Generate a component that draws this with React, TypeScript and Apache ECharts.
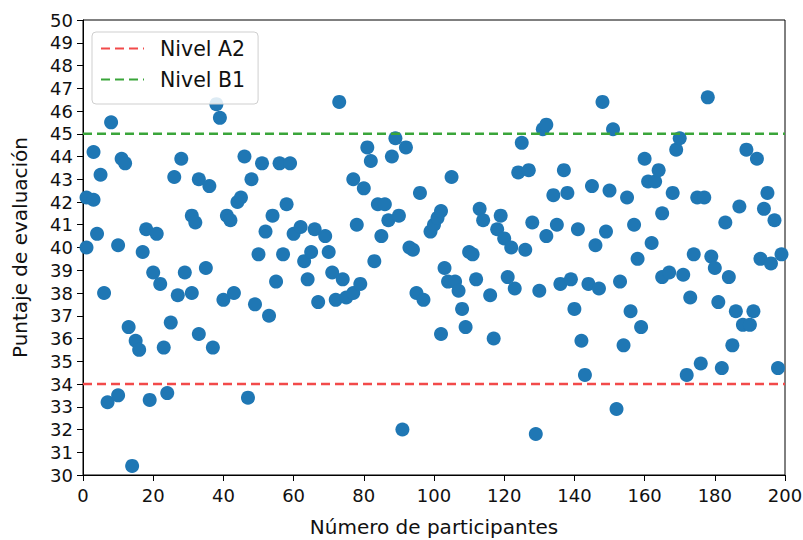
import React, { useEffect, useRef } from "react";
import * as echarts from "echarts";

// Participant number (x) and evaluation score (y)
const participantes: number[] = [
  1, 1, 3, 3, 4, 5, 6, 7, 8, 10, 10, 11, 12, 13, 14, 15, 16, 17, 18, 19, 20, 21, 22, 23, 24, 25, 26, 27, 28, 29, 31, 31, 32, 33, 33,
  35, 36, 37, 38, 39, 40, 41, 42, 43, 44, 45, 46, 47, 48, 49, 50, 51, 52, 53, 54, 55, 56, 57, 58, 59, 60, 62, 63, 64, 65, 66, 67,
  69, 70, 71, 72, 73, 74, 75, 77, 77, 78, 79, 80, 81, 82, 83, 84, 85, 86, 87, 88, 89, 90, 91, 92, 93, 94, 95, 96, 97,
  99, 100, 101, 102, 102, 103, 104, 105, 106, 107, 108, 109, 110, 111, 112, 113, 114, 116, 117, 118, 119, 120, 121, 122, 123, 124, 125, 126, 127, 128, 129, 130, 131, 132, 132,
  134, 135, 136, 137, 138, 139, 140, 141, 142, 143, 144, 145, 146, 147, 148, 149, 150, 151, 152, 153, 154, 155, 156, 157, 158, 159, 160, 161, 162, 163, 164, 165, 165,
  167, 168, 169, 170, 171, 172, 173, 174, 175, 176, 177, 178, 179, 180, 181, 182, 183, 184, 185, 186, 187, 188, 189, 190, 191, 192, 193, 194, 195, 196, 197, 198, 199,
];
const puntajes: number[] = [
  40.0, 42.2, 42.1, 44.2, 40.6, 43.2, 38.0, 33.2, 45.5, 33.5, 40.1, 43.9, 43.7, 36.5, 30.4, 35.9, 35.5, 39.8, 40.8, 33.3, 38.9, 40.6, 38.4, 35.6, 33.6, 36.7, 43.1, 37.9, 43.9, 38.9, 38.0, 41.4, 41.1, 43.0, 36.2,
  39.1, 42.7, 35.6, 46.3, 45.7, 37.7, 41.4, 41.2, 38.0, 42.0, 42.2, 44.0, 33.4, 43.0, 37.5, 39.7, 43.7, 40.7, 37.0, 41.4, 38.5, 43.7, 39.7, 41.9, 43.7, 40.6, 40.9, 39.4, 38.6, 39.8, 40.8, 37.6,
  40.5, 39.8, 38.9, 37.7, 46.4, 38.6, 37.8, 38.0, 43.0, 41.0, 38.4, 42.6, 44.4, 43.8, 39.4, 41.9, 40.5, 41.9, 41.2, 44.0, 44.8, 41.4, 32.0, 44.4, 40.0, 39.9, 38.0, 42.4, 37.7,
  40.7, 41.0, 41.3, 41.6, 36.2, 39.1, 38.5, 43.1, 38.5, 38.1, 37.3, 36.5, 39.8, 39.7, 38.6, 41.7, 41.2, 37.9, 36.0, 40.8, 41.4, 40.4, 38.7, 40.0, 38.2, 43.3, 44.6, 39.9, 43.4, 41.1, 31.8, 38.1, 45.2, 40.5, 45.4,
  42.3, 41.0, 38.4, 43.4, 42.4, 38.6, 37.3, 40.8, 35.9, 34.4, 38.4, 42.7, 40.1, 38.2, 46.4, 40.7, 42.5, 45.2, 32.9, 38.5, 35.7, 42.2, 37.2, 41.0, 39.5, 36.5, 43.9, 42.9, 40.2, 42.9, 43.4, 38.7, 41.5,
  38.9, 42.4, 44.3, 44.8, 38.8, 34.4, 37.8, 39.7, 42.2, 34.9, 42.2, 46.6, 39.6, 39.1, 37.6, 34.7, 41.1, 38.7, 35.7, 37.2, 41.8, 36.6, 44.3, 36.6, 37.2, 43.9, 39.5, 41.7, 42.4, 39.3, 41.2, 34.7, 39.7,
];

const nivelA2 = 34;
const nivelB1 = 45;
const xRange = [0, 200];
const yRange = [30, 50];

const FONT = "DejaVu Sans";

export default function App() {
  const ref = useRef<HTMLDivElement>(null);

  useEffect(() => {
    if (!ref.current) return;
    const chart = echarts.init(ref.current, undefined, { renderer: "svg" });
    const points = participantes.map((x, i) => [x, puntajes[i]]);
    chart.setOption({
      animation: false,
      backgroundColor: "#ffffff",
      textStyle: { fontFamily: FONT },
      grid: {
        left: 83,
        right: 18,
        top: 20,
        bottom: 65,
        containLabel: false,
        outerBoundsMode: "none",
        show: true,
        borderColor: "#000",
        borderWidth: 1,
        backgroundColor: "transparent",
      },
      legend: {
        data: ["Nivel A2", "Nivel B1"],
        orient: "vertical",
        left: 92,
        top: 32,
        itemWidth: 43,
        itemHeight: 14,
        itemGap: 10,
        padding: [6, 13, 14, 8],
        backgroundColor: "rgba(255,255,255,0.85)",
        borderColor: "#cfcfcf",
        borderWidth: 1,
        borderRadius: 4,
        itemStyle: { opacity: 0 },
        textStyle: {
          fontFamily: FONT,
          fontSize: 20.5,
          color: "#111",
          padding: [0, 0, 0, 11],
        },
      },
      xAxis: {
        type: "value",
        min: xRange[0],
        max: xRange[1],
        interval: 20,
        name: "Número de participantes",
        nameLocation: "middle",
        nameGap: 42,
        nameTextStyle: { fontFamily: FONT, fontSize: 20, color: "#111" },
        axisLine: { show: true, lineStyle: { color: "#000", width: 1 } },
        axisTick: { show: true, length: 6, lineStyle: { color: "#000" } },
        axisLabel: { fontFamily: FONT, fontSize: 18, color: "#111", margin: 11 },
        splitLine: { show: false },
      },
      yAxis: {
        type: "value",
        min: yRange[0],
        max: yRange[1],
        interval: 1,
        name: "Puntaje de evaluación",
        nameLocation: "middle",
        nameGap: 53,
        nameTextStyle: { fontFamily: FONT, fontSize: 20, color: "#111" },
        axisLine: { show: true, lineStyle: { color: "#000", width: 1 } },
        axisTick: { show: true, length: 6, lineStyle: { color: "#000" } },
        axisLabel: { fontFamily: FONT, fontSize: 18, color: "#111", margin: 10 },
        splitLine: { show: false },
      },
      series: [
        {
          type: "scatter",
          name: "Puntajes",
          data: points,
          symbolSize: 14,
          itemStyle: { color: "#1f77b4", opacity: 1 },
          z: 2,
        },
        {
          type: "line",
          name: "Nivel A2",
          data: [
            [xRange[0], nivelA2],
            [xRange[1], nivelA2],
          ],
          showSymbol: false,
          symbol: "none",
          lineStyle: { color: "#f24a4a", width: 2.5, type: [9, 5] },
          itemStyle: { color: "#f24a4a" },
          z: 3,
        },
        {
          type: "line",
          name: "Nivel B1",
          data: [
            [xRange[0], nivelB1],
            [xRange[1], nivelB1],
          ],
          showSymbol: false,
          symbol: "none",
          lineStyle: { color: "#3aa53a", width: 2.5, type: [9, 5] },
          itemStyle: { color: "#3aa53a" },
          z: 3,
        },
      ],
    });
    return () => chart.dispose();
  }, []);

  return (
    <div
      ref={ref}
      style={{ position: "fixed", left: 0, top: 0, width: 803, height: 540, background: "#fff" }}
    />
  );
}
